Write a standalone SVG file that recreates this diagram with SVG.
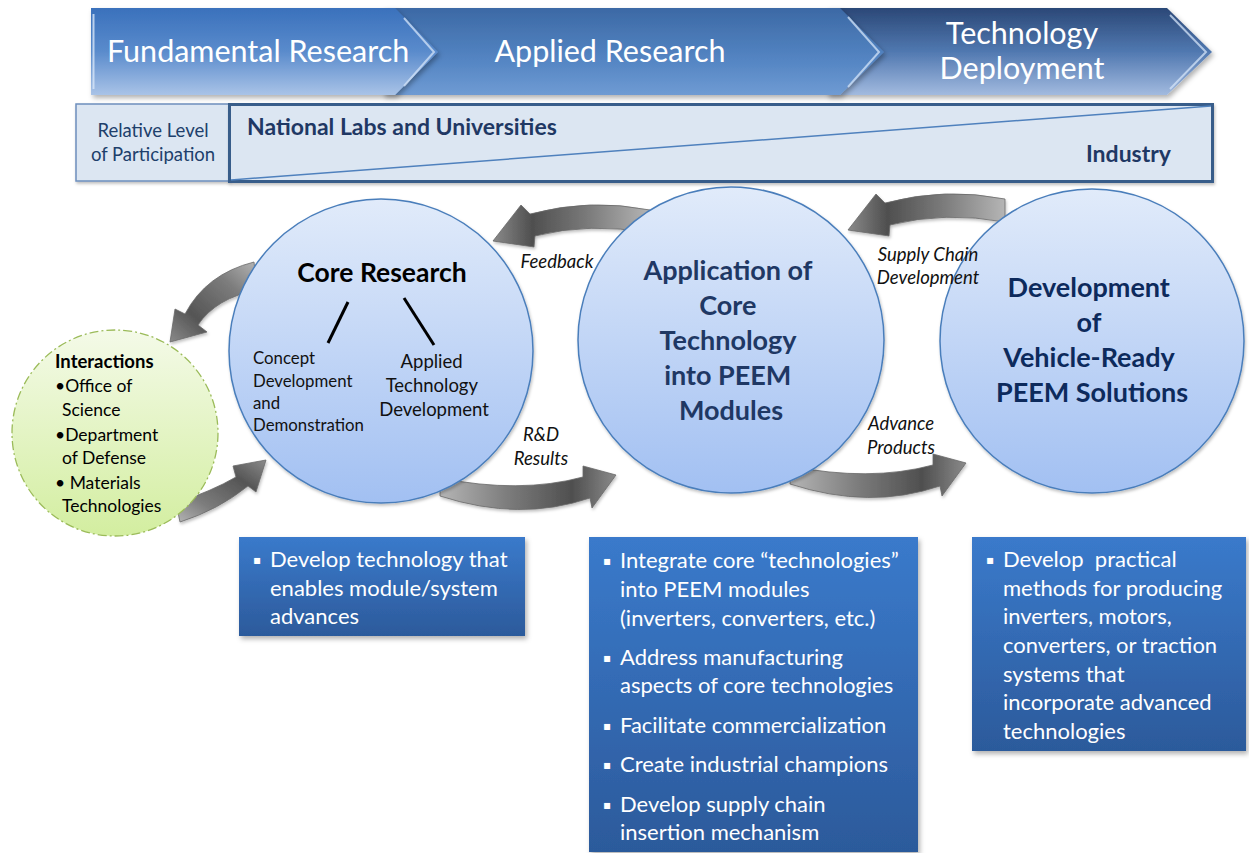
<svg xmlns="http://www.w3.org/2000/svg" width="1249" height="853" viewBox="0 0 1249 853">
  <defs>
    <linearGradient id="gChev1" x1="0" y1="0" x2="0" y2="1">
      <stop offset="0" stop-color="#3a71bc"/>
      <stop offset="0.5" stop-color="#5a8bcc"/>
      <stop offset="1" stop-color="#a9c3e7"/>
    </linearGradient>
    <linearGradient id="gChev2" x1="0" y1="0" x2="0" y2="1">
      <stop offset="0" stop-color="#3c69a5"/>
      <stop offset="0.6" stop-color="#5485c3"/>
      <stop offset="1" stop-color="#6f9bd3"/>
    </linearGradient>
    <linearGradient id="gChev3" x1="0" y1="0" x2="0" y2="1">
      <stop offset="0" stop-color="#2b4877"/>
      <stop offset="0.5" stop-color="#5078b0"/>
      <stop offset="1" stop-color="#a2badf"/>
    </linearGradient>
    <linearGradient id="gCircle" x1="0" y1="0" x2="0" y2="1">
      <stop offset="0" stop-color="#e1ebfa"/>
      <stop offset="1" stop-color="#a2c0f2"/>
    </linearGradient>
    <linearGradient id="gGreen" x1="0" y1="0" x2="0" y2="1">
      <stop offset="0" stop-color="#f4fae8"/>
      <stop offset="1" stop-color="#d3eea0"/>
    </linearGradient>
    <linearGradient id="gBox" x1="0" y1="0" x2="0" y2="1">
      <stop offset="0" stop-color="#3a7acb"/>
      <stop offset="1" stop-color="#2c5a9b"/>
    </linearGradient>
    <linearGradient id="gArrowL" x1="0" y1="0" x2="1" y2="0">
      <stop offset="0" stop-color="#8a8a8a"/>
      <stop offset="0.25" stop-color="#4f4f4f"/>
      <stop offset="0.6" stop-color="#7a7a7a"/>
      <stop offset="1" stop-color="#b5b5b5"/>
    </linearGradient>
    <linearGradient id="gArrowR" x1="1" y1="0" x2="0" y2="0">
      <stop offset="0" stop-color="#8a8a8a"/>
      <stop offset="0.25" stop-color="#4f4f4f"/>
      <stop offset="0.6" stop-color="#7a7a7a"/>
      <stop offset="1" stop-color="#b5b5b5"/>
    </linearGradient>
    <linearGradient id="gArrowDown" x1="0" y1="1" x2="1" y2="0">
      <stop offset="0" stop-color="#8a8a8a"/>
      <stop offset="0.3" stop-color="#555555"/>
      <stop offset="0.7" stop-color="#7c7c7c"/>
      <stop offset="1" stop-color="#b5b5b5"/>
    </linearGradient>
    <linearGradient id="gArrowUp" x1="1" y1="0" x2="0" y2="1">
      <stop offset="0" stop-color="#8a8a8a"/>
      <stop offset="0.3" stop-color="#555555"/>
      <stop offset="0.7" stop-color="#7c7c7c"/>
      <stop offset="1" stop-color="#b5b5b5"/>
    </linearGradient>
    <filter id="shadow" x="-10%" y="-10%" width="130%" height="130%">
      <feDropShadow dx="2" dy="3" stdDeviation="2.5" flood-color="#000" flood-opacity="0.3"/>
    </filter>
    <filter id="shadowSoft" x="-10%" y="-10%" width="130%" height="130%">
      <feDropShadow dx="1" dy="2" stdDeviation="1.5" flood-color="#000" flood-opacity="0.25"/>
    </filter>
  </defs>
  <style>
    .f { font-family: "Lato", "Liberation Sans", sans-serif; }
    .chevText { font-size: 30.5px; fill: #ffffff; }
    .bevel { fill: none; stroke: #d4e4f8; stroke-width: 2; opacity: 0.75; }
    .circle { fill: url(#gCircle); stroke: #4a7ebb; stroke-width: 1.5; filter: url(#shadowSoft); }
    .arrow { stroke: #6a6a6a; stroke-width: 0.8; filter: url(#shadowSoft); }
    .lbl { font-size: 18.5px; font-style: italic; fill: #111111; }
    .box { fill: url(#gBox); filter: url(#shadow); }
    .boxText { font-size: 22px; fill: #ffffff; }
    .bullet { font-family: "DejaVu Sans", sans-serif; font-size: 12px; fill: #ffffff; }
    .navy { fill: #1f3864; }
    .dark { fill: #0d2a5c; }
  </style>

  <!-- stage chevrons, drawn right to left so each tip overlaps the next -->
  <g id="stage-deployment">
    <polygon points="827,8 1167,8 1212,52 1167,95 827,95" fill="url(#gChev3)" filter="url(#shadow)"/>
    <polyline class="bevel" points="1170,15 1206,52 1170,89"/>
    <text class="f chevText" x="1022" y="44" text-anchor="middle">Technology</text>
    <text class="f chevText" x="1022" y="79" text-anchor="middle">Deployment</text>
  </g>
  <g id="stage-applied">
    <polygon points="383,8 840,8 884,52 840,95 383,95" fill="url(#gChev2)" filter="url(#shadow)"/>
    <polyline class="bevel" points="848,17 879,52 848,87"/>
    <text class="f chevText" x="610" y="62" text-anchor="middle">Applied Research</text>
  </g>
  <g id="stage-fundamental">
    <polygon points="91,8 395,8 438,52 395,95 91,95" fill="url(#gChev1)" filter="url(#shadow)"/>
    <polyline class="bevel" points="404,18 434,52 404,86"/>
    <line x1="93.5" y1="14" x2="93.5" y2="89" stroke="#d8e7f9" stroke-width="2" opacity="0.8"/>
    <text class="f chevText" x="107" y="62">Fundamental Research</text>
  </g>

  <!-- participation bar -->
  <g id="participation-label">
    <rect x="76" y="104" width="153" height="77" fill="#dce6f2" stroke="#6d8fbd" stroke-width="1.5" filter="url(#shadowSoft)"/>
    <text class="f" x="153" y="137" font-size="18.5" text-anchor="middle" fill="#203f6b">Relative Level</text>
    <text class="f" x="153" y="161" font-size="18.5" text-anchor="middle" fill="#203f6b">of Participation</text>
  </g>
  <g id="participation-bar">
    <rect x="229.5" y="104.5" width="983" height="77" fill="#dce6f2" stroke="#385d8a" stroke-width="3" filter="url(#shadowSoft)"/>
    <line x1="231" y1="180" x2="1211" y2="106" stroke="#4f81bd" stroke-width="1.5"/>
    <text class="f navy" x="247" y="135" font-size="23" font-weight="bold">National Labs and Universities</text>
    <text class="f navy" x="1171" y="162" font-size="23" font-weight="bold" text-anchor="end">Industry</text>
  </g>

  <!-- curved connectors between the stages -->
  <g id="connectors">
    <path class="arrow" fill="url(#gArrowDown)" d="M 254 262 Q 206 274 185 314 L 175 309 L 170 342 L 207 332 L 198 325 Q 216 298 257 290 Z"/>
    <path class="arrow" fill="url(#gArrowUp)" d="M 176 503 Q 212 491 236 477 L 233 466 L 266 460 L 256 492 L 248 486 Q 218 510 180 522 Z"/>
    <path class="arrow" fill="url(#gArrowL)" d="M 650 210 Q 590 198 530 214 L 521 205 L 493 241 L 534 247 L 535 236 Q 590 222 650 233 Z"/>
    <path class="arrow" fill="url(#gArrowL)" d="M 1005 199 Q 945 187 885 203 L 876 194 L 848 230 L 889 236 L 890 225 Q 945 211 1005 222 Z"/>
    <path class="arrow" fill="url(#gArrowR)" d="M 440 478 Q 520 494 583 477 L 583 466 L 616 475 L 592 508 L 590 498 Q 520 522 440 496 Z"/>
    <path class="arrow" fill="url(#gArrowR)" d="M 790 466 Q 870 482 933 465 L 933 454 L 966 463 L 942 496 L 940 486 Q 870 510 790 484 Z"/>
  </g>

  <!-- external interactions -->
  <g id="interactions">
    <circle cx="115" cy="433" r="103" fill="url(#gGreen)" stroke="#9bbb59" stroke-width="1.3" stroke-dasharray="9 3 2 3"/>
    <text class="f" x="55" y="368" font-size="18.5" font-weight="bold" fill="#000">Interactions</text>
    <text class="f" font-size="17.5" fill="#000">
      <tspan x="55" y="392">•Office of</tspan>
      <tspan x="62" y="416">Science</tspan>
      <tspan x="55" y="441">•Department</tspan>
      <tspan x="62" y="464">of Defense</tspan>
      <tspan x="55" y="489">• Materials</tspan>
      <tspan x="62" y="512">Technologies</tspan>
    </text>
  </g>

  <!-- core research -->
  <g id="core-research">
    <circle class="circle" cx="381" cy="351" r="152"/>
    <text class="f" x="382" y="282" font-size="26.5" font-weight="bold" fill="#000" text-anchor="middle">Core Research</text>
    <line x1="348" y1="302" x2="328" y2="343" stroke="#000" stroke-width="3"/>
    <line x1="404" y1="298" x2="434" y2="345" stroke="#000" stroke-width="3"/>
    <text class="f" font-size="16.8" fill="#111">
      <tspan x="253" y="364">Concept</tspan>
      <tspan x="253" y="387">Development</tspan>
      <tspan x="253" y="409">and</tspan>
      <tspan x="253" y="431">Demonstration</tspan>
    </text>
    <text class="f" font-size="18.5" fill="#111" text-anchor="middle">
      <tspan x="434" y="368">Applied</tspan>
      <tspan x="434" y="392">Technology</tspan>
      <tspan x="434" y="416">Development</tspan>
    </text>
  </g>

  <!-- application of core technology -->
  <g id="application">
    <circle class="circle" cx="731" cy="340" r="153"/>
    <text class="f navy" font-size="27" font-weight="bold" text-anchor="middle">
      <tspan x="731" y="280">Application of</tspan>
      <tspan x="731" y="315">Core</tspan>
      <tspan x="731" y="350">Technology</tspan>
      <tspan x="731" y="385">into PEEM</tspan>
      <tspan x="731" y="420">Modules</tspan>
    </text>
  </g>

  <!-- vehicle-ready solutions -->
  <g id="vehicle-ready">
    <circle class="circle" cx="1092" cy="341" r="152"/>
    <text class="f dark" font-size="27" font-weight="bold" text-anchor="middle">
      <tspan x="1092" y="297">Development</tspan>
      <tspan x="1092" y="332">of</tspan>
      <tspan x="1092" y="367">Vehicle-Ready</tspan>
      <tspan x="1092" y="402">PEEM Solutions</tspan>
    </text>
  </g>

  <!-- connector labels -->
  <g id="connector-labels">
    <text class="f lbl" x="557" y="268" text-anchor="middle">Feedback</text>
    <text class="f lbl" text-anchor="middle"><tspan x="541" y="441">R&amp;D</tspan><tspan x="541" y="465">Results</tspan></text>
    <text class="f lbl" text-anchor="middle"><tspan x="928" y="261">Supply Chain</tspan><tspan x="928" y="284">Development</tspan></text>
    <text class="f lbl" text-anchor="middle"><tspan x="901" y="430">Advance</tspan><tspan x="901" y="454">Products</tspan></text>
  </g>

  <!-- stage outcomes -->
  <g id="outcome-core">
    <rect class="box" x="239" y="537" width="286" height="99"/>
    <text class="bullet" x="253" y="564">▪</text>
    <text class="f boxText">
      <tspan x="270" y="567">Develop technology that</tspan>
      <tspan x="270" y="596">enables module/system</tspan>
      <tspan x="270" y="624">advances</tspan>
    </text>
  </g>
  <g id="outcome-application">
    <rect class="box" x="589" y="537" width="329" height="315"/>
    <text class="bullet" x="603" y="565">▪</text>
    <text class="bullet" x="603" y="662">▪</text>
    <text class="bullet" x="603" y="730">▪</text>
    <text class="bullet" x="603" y="769">▪</text>
    <text class="bullet" x="603" y="809">▪</text>
    <text class="f boxText">
      <tspan x="620" y="568">Integrate core “technologies”</tspan>
      <tspan x="620" y="597">into PEEM modules</tspan>
      <tspan x="620" y="626">(inverters, converters, etc.)</tspan>
      <tspan x="620" y="665">Address manufacturing</tspan>
      <tspan x="620" y="693">aspects of core technologies</tspan>
      <tspan x="620" y="733">Facilitate commercialization</tspan>
      <tspan x="620" y="772">Create industrial champions</tspan>
      <tspan x="620" y="812">Develop supply chain</tspan>
      <tspan x="620" y="840">insertion mechanism</tspan>
    </text>
  </g>
  <g id="outcome-vehicle">
    <rect class="box" x="972" y="537" width="274" height="214"/>
    <text class="bullet" x="986" y="564">▪</text>
    <text class="f boxText">
      <tspan x="1003" y="567">Develop&#160; practical</tspan>
      <tspan x="1003" y="596">methods for producing</tspan>
      <tspan x="1003" y="624">inverters, motors,</tspan>
      <tspan x="1003" y="653">converters, or traction</tspan>
      <tspan x="1003" y="682">systems that</tspan>
      <tspan x="1003" y="710">incorporate advanced</tspan>
      <tspan x="1003" y="739">technologies</tspan>
    </text>
  </g>
</svg>
